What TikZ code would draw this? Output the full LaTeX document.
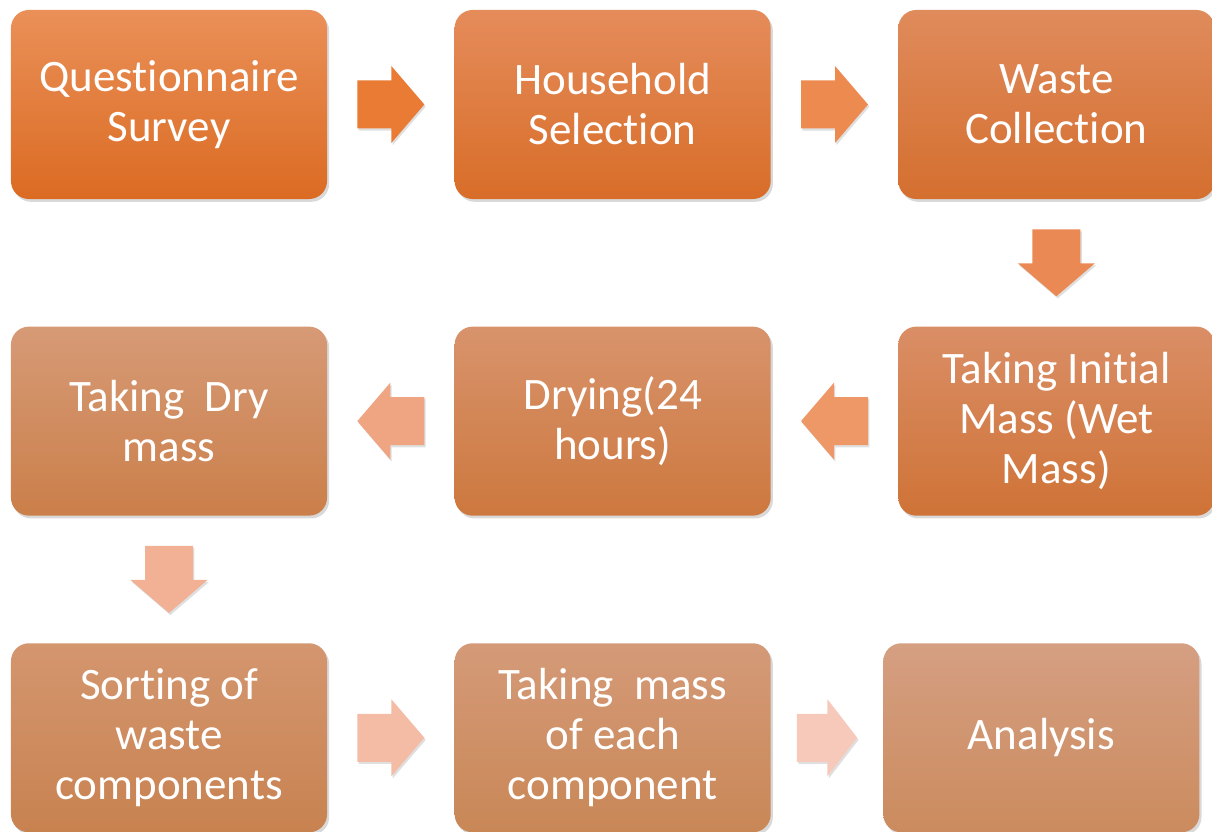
\documentclass[tikz,border=0pt]{standalone}
\usepackage{fontspec}
\setmainfont{Carlito}[Ligatures=NoCommon]
\usepackage{tikz}
\usetikzlibrary{positioning, calc, shadows}

% box shades, top to bottom
\definecolor{boxAt}{HTML}{EA9058}\definecolor{boxAb}{HTML}{DB6B23}
\definecolor{boxBt}{HTML}{E58C5B}\definecolor{boxBb}{HTML}{D86D28}
\definecolor{boxCt}{HTML}{E08B5C}\definecolor{boxCb}{HTML}{D46F2F}
\definecolor{boxDt}{HTML}{DA8E66}\definecolor{boxDb}{HTML}{CF7337}
\definecolor{boxEt}{HTML}{D8936C}\definecolor{boxEb}{HTML}{CD783E}
\definecolor{boxFt}{HTML}{D69A76}\definecolor{boxFb}{HTML}{CB7F4A}
\definecolor{boxGt}{HTML}{D4966F}\definecolor{boxGb}{HTML}{C88250}
\definecolor{boxHt}{HTML}{D49A78}\definecolor{boxHb}{HTML}{C98756}
\definecolor{boxIt}{HTML}{D59F82}\definecolor{boxIb}{HTML}{CB8B5E}
% arrow fills
\definecolor{arrA}{HTML}{E97B34}
\definecolor{arrB}{HTML}{EC8A4F}
\definecolor{arrC}{HTML}{EB8954}
\definecolor{arrD}{HTML}{EE9767}
\definecolor{arrE}{HTML}{F0A582}
\definecolor{arrF}{HTML}{F2B094}
\definecolor{arrG}{HTML}{F4BCA5}
\definecolor{arrH}{HTML}{F6C9BA}

\begin{document}
\begin{tikzpicture}[
  x=0.025cm, y=-0.025cm,
  node distance=3.175cm and 3.175cm,
  stepbox/.style 2 args={rectangle, rounded corners=0.45cm,
             minimum width=7.9cm, minimum height=4.725cm, align=center,
             inner sep=0pt, text=white, font=\fontsize{32}{35.5}\selectfont,
             top color=#1, bottom color=#2,
             drop shadow={shadow xshift=1.5pt, shadow yshift=-2pt, opacity=0.3}},
  blkarrow/.pic={
    \fill[#1, drop shadow={shadow xshift=1pt, shadow yshift=-1.5pt, opacity=0.25}]
      (-33.5,-24) -- (0.5,-24) -- (0.5,-38.5) -- (33.5,0) -- (0.5,38.5)
      -- (0.5,24) -- (-33.5,24) -- cycle;
  }
]
\useasboundingbox (0,0) rectangle (1212,832);

% first row
\node[stepbox={boxAt}{boxAb}] (survey) at (169,104.5) {Questionnaire\\Survey};
\node[stepbox={boxBt}{boxBb}, right=of survey] (select) {Household\\Selection};
\node[stepbox={boxCt}{boxCb}, right=of select] (collect) {Waste\\Collection};

% second row, right to left
\node[stepbox={boxDt}{boxDb}, below=of collect] (wetmass) {Taking Initial\\Mass (Wet\\Mass)};
\node[stepbox={boxEt}{boxEb}, left=of wetmass] (drying) {Drying(24\\hours)};
\node[stepbox={boxFt}{boxFb}, left=of drying] (drymass) {Taking\ \ Dry\\mass};

% third row
\node[stepbox={boxGt}{boxGb}, below=of drymass] (sorting) {Sorting of\\waste\\components};
\node[stepbox={boxHt}{boxHb}, right=of sorting] (compmass) {Taking\ \ mass\\of each\\component};
\node[stepbox={boxIt}{boxIb}, right=2.8cm of compmass] (analysis) {Analysis};

% block arrows between the steps
\pic at ($(survey.east)!0.5!(select.west)$) {blkarrow=arrA};
\pic at ($(select.east)!0.5!(collect.west)$) {blkarrow=arrB};
\pic[rotate=-90] at ($(collect.south)!0.5!(wetmass.north)$) {blkarrow=arrC};
\pic[rotate=180] at ($(wetmass.west)!0.5!(drying.east)$) {blkarrow=arrD};
\pic[rotate=180] at ($(drying.west)!0.5!(drymass.east)$) {blkarrow=arrE};
\pic[rotate=-90] at ($(drymass.south)!0.5!(sorting.north)$) {blkarrow=arrF};
\pic at ($(sorting.east)!0.5!(compmass.west)$) {blkarrow=arrG};
\pic[xscale=0.9] at ($(compmass.east)!0.5!(analysis.west)$) {blkarrow=arrH};

\end{tikzpicture}
\end{document}
